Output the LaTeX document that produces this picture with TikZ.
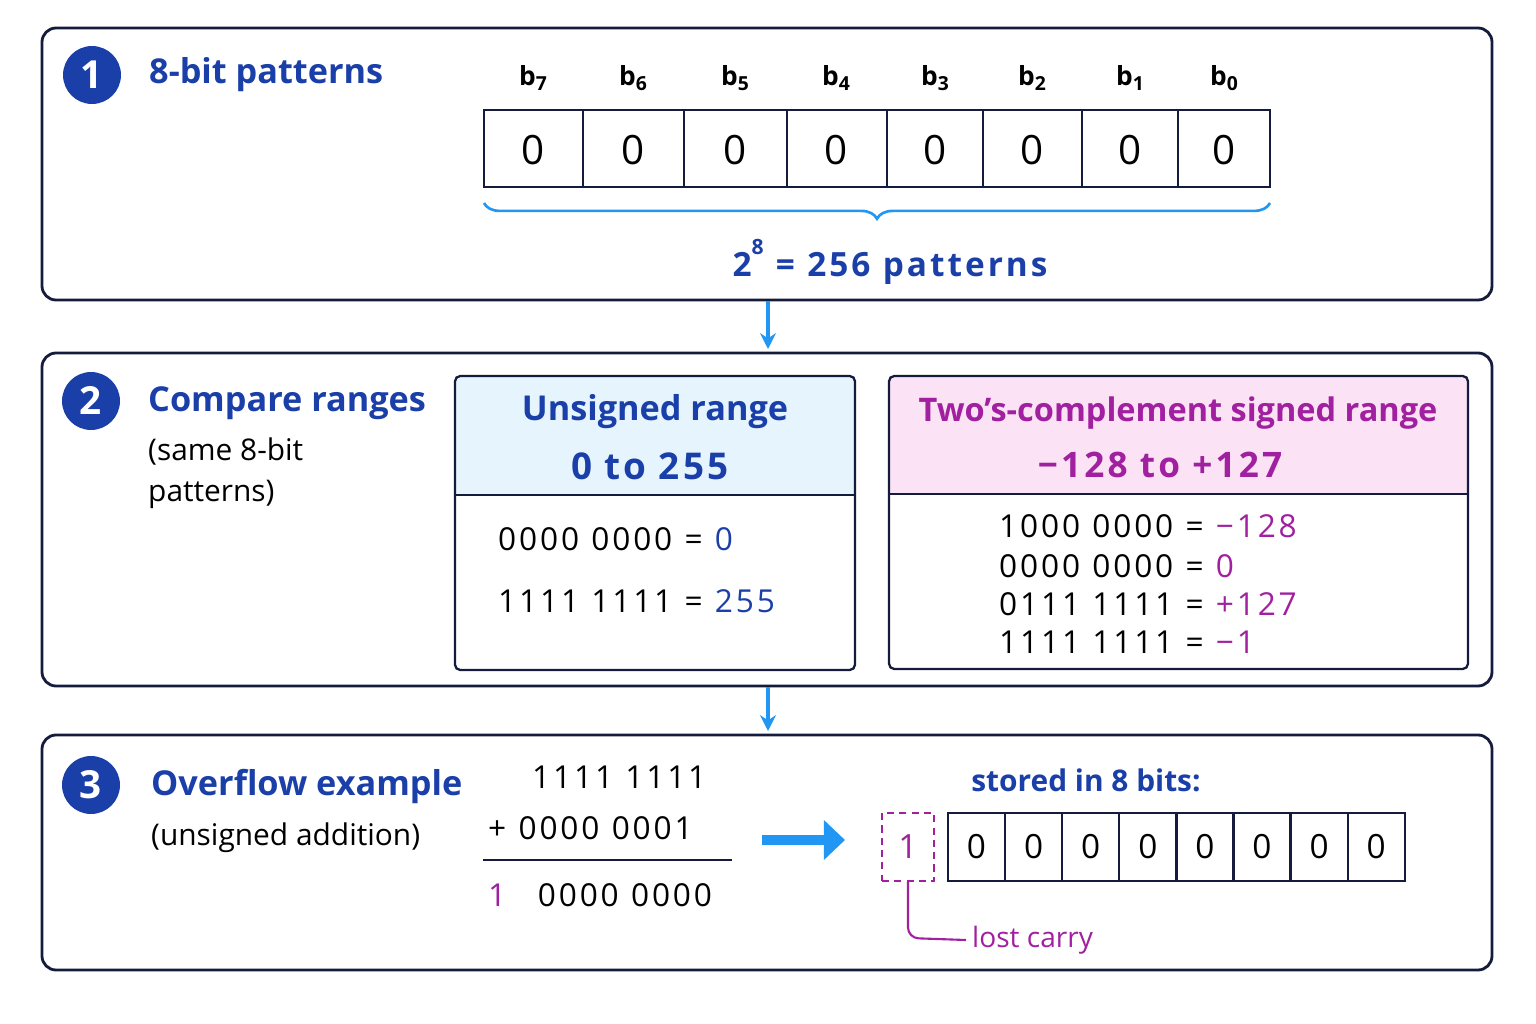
\documentclass[tikz,border=0pt]{standalone}
\usepackage{fontspec}
\setmainfont{Open Sans}
\newfontfamily\mono{Open Sans}[LetterSpace=9]
\usetikzlibrary{decorations.pathreplacing,arrows.meta}
\definecolor{navy}{HTML}{141B3C}
\definecolor{dblue}{HTML}{1A3FA8}
\definecolor{lblue}{HTML}{2196F3}
\definecolor{mag}{HTML}{A020A0}
\definecolor{hblue}{HTML}{E6F4FD}
\definecolor{hpink}{HTML}{FBE3F5}
\newcommand{\fs}[1]{\fontsize{#1}{#1}\selectfont}
\newcommand{\sbs}[1]{\raisebox{-0.35ex}{\fs{11}#1}}
\newcommand{\gp}{\hspace{7pt}}
\begin{document}
\begin{tikzpicture}[x=0.02cm,y=-0.02cm,
 panel/.style={draw=navy,line width=1.6pt,rounded corners=8pt},
 num/.style={circle,fill=dblue,text=white,minimum size=33pt,inner sep=0pt,font=\fs{22}\bfseries},
 head/.style={anchor=west,text=dblue,font=\fs{19.5}\bfseries},
 sub/.style={anchor=west,text=black,font=\fs{17}},
 bit/.style={font=\fs{23}},
 blab/.style={font=\fs{15}\bfseries},
 flow/.style={draw=lblue,line width=1.8pt,-{Stealth[length=9pt,width=9pt]}},
 row/.style={anchor=west,font=\mono\fs{18}}]
\useasboundingbox (0,0) rectangle (1536,1024);
% panel 1
\node[panel,minimum width=1450*0.02cm,minimum height=272*0.02cm] (p1) at (767,164) {};
\node[num] (n1) at (92,75) {1};
\node[head] (h1) at (143,75) {8-bit patterns};
\draw[navy,line width=1.3pt] (484,110) rectangle (1270,187);
\foreach \x in {583,684,787,887,983,1082,1178}{\draw[navy,line width=1.3pt] (\x,110)--(\x,187);}
\foreach \x/\l [count=\i] in {533/7,633/6,735/5,836/4,935/3,1032/2,1130/1,1224/0}{
 \node[bit] (c\i) at (\x,150) {0};
 \node[blab] (b\i) at (\x,78) {b\sbs{\l}};}
\draw[lblue,line width=1.5pt,decorate,decoration={brace,mirror,amplitude=9pt}] (484,203)--(1270,203);
\node[text=dblue,font=\mono\fs{19}\bfseries] (pat) at (890,262) {2\raisebox{1.2ex}{\fs{12}8}\gp=\gp256\gp patterns};
\coordinate (a1) at (768,301); \coordinate (a2) at (768,349);
\draw[flow] (a1)--(a2);
% panel 2
\node[panel,minimum width=1450*0.02cm,minimum height=333*0.02cm] (p2) at (767,519.5) {};
\node[num] (n2) at (91,401) {2};
\node[head] (h2) at (142,403) {Compare ranges};
\node[sub,align=left,anchor=north west] (s2) at (142,432) {(same 8-bit\\[6pt]patterns)};
\draw[fill=hblue,draw=none] (455,376) rectangle (855,495);
\draw[navy,line width=1.3pt,rounded corners=3pt] (455,376) rectangle (855,670);
\draw[navy,line width=1.3pt] (455,495)--(855,495);
\node[text=dblue,font=\fs{19.5}\bfseries] (u1) at (655,412) {Unsigned range};
\node[text=dblue,font=\mono\fs{21}\bfseries] (u2) at (650,466) {0\gp to\gp 255};
\node[row] (ur1) at (492,539) {0000\gp 0000\gp =\gp \textcolor{dblue}{0}};
\node[row] (ur2) at (492,601) {1111\gp 1111\gp =\gp \textcolor{dblue}{255}};
\draw[fill=hpink,draw=none] (889,376) rectangle (1468,494);
\draw[navy,line width=1.3pt,rounded corners=3pt] (889,376) rectangle (1468,669);
\draw[navy,line width=1.3pt] (889,494)--(1468,494);
\node[text=mag,font=\fs{18.5}\bfseries] (t1) at (1178,413) {Two’s-complement signed range};
\node[text=mag,font=\mono\fs{20}\bfseries] (t2) at (1160,465) {−128\gp to\gp +127};
\node[row] (sr1) at (993,526) {1000\gp 0000\gp =\gp \textcolor{mag}{−128}};
\node[row] (sr2) at (993,566) {0000\gp 0000\gp =\gp \textcolor{mag}{0}};
\node[row] (sr3) at (993,604) {0111\gp 1111\gp =\gp \textcolor{mag}{+127}};
\node[row] (sr4) at (993,642) {1111\gp 1111\gp =\gp \textcolor{mag}{−1}};
\coordinate (a3) at (768,687); \coordinate (a4) at (768,731);
\draw[flow] (a3)--(a4);
% panel 3
\node[panel,minimum width=1450*0.02cm,minimum height=235*0.02cm] (p3) at (767,852.5) {};
\node[num] (n3) at (91,785) {3};
\node[head] (h3) at (145,787) {Overflow example};
\node[sub] (s3) at (145,838) {(unsigned addition)};
\node[row] (ad1) at (526,777) {1111\gp 1111};
\node[row] (ad2) at (482,828) {+\gp 0000\gp 0001};
\draw[navy,line width=1.3pt] (483,860)--(732,860);
\node[row] (ad3) at (482,895) {\textcolor{mag}{1}\hspace{18pt}0000\gp 0000};
\coordinate (ba) at (762,840); \coordinate (bb) at (845,840);
\draw[draw=lblue,line width=6pt,-{Triangle[length=12pt,width=22pt]}] (ba)--(bb);
\node[text=dblue,font=\fs{17}\bfseries] (st) at (1086,780) {stored in 8 bits:};
\node[draw=mag,dash pattern=on 4pt off 3pt,line width=1.2pt,minimum width=52*0.02cm,minimum height=68*0.02cm,text=mag,font=\fs{19}] (carry) at (908,847) {1};
\draw[navy,line width=1.3pt] (948,813) rectangle (1405,881);
\foreach \i in {1,...,7}{\draw[navy,line width=1.3pt] (948+\i*57.1,813)--(948+\i*57.1,881);}
\foreach \i in {0,...,7}{\node[font=\fs{19}] (d\i) at (976.5+\i*57.1,847) {0};}
\node[anchor=west,text=mag,font=\fs{16}] (lc) at (966,940) {lost carry};
\draw[mag,line width=1.2pt,rounded corners=6pt] (carry.south)--(908,938)--(lc.west);
\end{tikzpicture}
\end{document}
